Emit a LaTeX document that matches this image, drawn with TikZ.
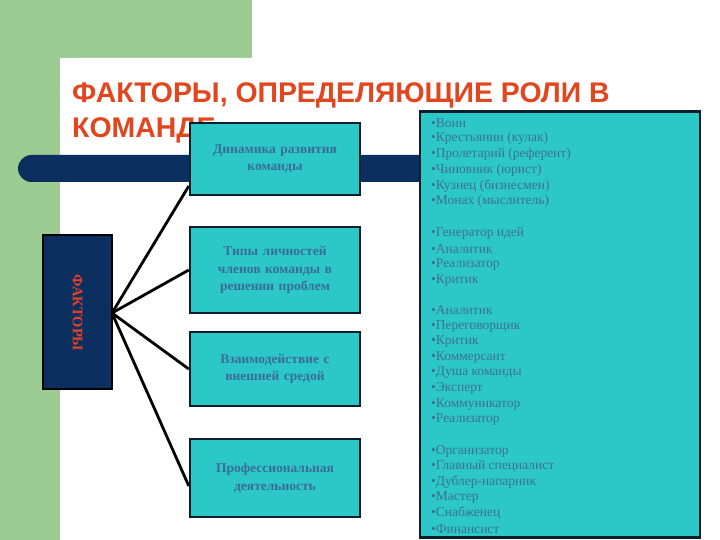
\documentclass[tikz,border=0pt]{standalone}
\usepackage{fontspec}
\setmainfont{Liberation Serif}
\newfontfamily\titlefont{Liberation Sans}
\definecolor{greenbg}{HTML}{9CCB94}
\definecolor{navy}{HTML}{0B2F5F}
\definecolor{cyanbox}{HTML}{2CC8C8}
\definecolor{boxedge}{HTML}{0A1E2A}
\definecolor{titlered}{HTML}{E2461E}
\definecolor{boxtext}{HTML}{3A6C98}
\definecolor{listtext}{HTML}{3D7096}
\definecolor{factred}{HTML}{E8402A}
\tikzset{
  factbox/.style={draw=boxedge, line width=2.4pt, fill=cyanbox, minimum width=170pt, inner sep=0pt,
    text=boxtext, font=\bfseries\fontsize{13.5}{17.5}\selectfont, align=center, text width=160pt},
  conn/.style={draw=black, line width=2.8pt},
  listline/.style={anchor=west, inner sep=0pt, text=listtext, font=\fontsize{13.5}{15}\selectfont}
}
\begin{document}
\begin{tikzpicture}[x=1pt,y=-1pt]
\useasboundingbox (0,0) rectangle (720,540);
\fill[white] (0,0) rectangle (720,540);
% green background
\fill[greenbg] (0,0) rectangle (252,58);
\fill[greenbg] (0,0) rectangle (60,540);
\fill[white, rounded corners=16pt] (60,560) -- (60,58) -- (740,58) -- (740,560) -- cycle;
% title
\node[anchor=base west, inner sep=0pt, text=titlered, font=\titlefont\bfseries\fontsize{28.4}{35}\selectfont] (t1) at (72,103) {ФАКТОРЫ, ОПРЕДЕЛЯЮЩИЕ РОЛИ В};
\node[anchor=base west, inner sep=0pt, text=titlered, font=\titlefont\bfseries\fontsize{28.4}{35}\selectfont] (t2) at (72,138) {КОМАНДЕ};
% navy bar
\fill[navy, rounded corners=13.5pt] (18,155) rectangle (440,182);
% right list box
\node[draw=boxedge, line width=2.4pt, fill=cyanbox, minimum width=280pt, minimum height=426pt, inner sep=0pt] (list) at (560,324.5) {};
% factors box
\node[draw=black, line width=2.4pt, fill=navy, minimum width=69pt, minimum height=154pt, inner sep=0pt] (fact) at (77.5,312) {};
\node[rotate=-90, text=factred, font=\bfseries\fontsize{14.5}{15}\selectfont, inner sep=0pt] (factlbl) at (77.5,313) {ФАКТОРЫ};
% four factor boxes
\node[factbox, minimum height=72pt] (b1) at (275,159) {Динамика развития\\команды};
\node[factbox, minimum height=86pt] (b2) at (275,270) {Типы личностей\\членов команды в\\решении проблем};
\node[factbox, minimum height=74pt] (b3) at (275,369) {Взаимодействие с\\внешней средой};
\node[factbox, minimum height=78pt] (b4) at (275,478) {Профессиональная\\деятельность};
% connectors
\coordinate (hub) at (112,313);
\draw[conn] (hub) -- (b1.west |- 0,186);
\draw[conn] (hub) -- (b2.west);
\draw[conn] (hub) -- (b3.west);
\draw[conn] (hub) -- (b4.west |- 0,486);
% list text
\foreach \t [count=\i] in {Воин,Крестьянин (кулак),Пролетарий (референт),Чиновник (юрист),Кузнец (бизнесмен),Монах (мыслитель)}
  \node[listline] (la\i) at (431,123+15.7*\i-15.7) {•\t};
\foreach \t [count=\i] in {Генератор идей,Аналитик,Реализатор,Критик}
  \node[listline] (lb\i) at (431,233+15.7*\i-15.7) {•\t};
\foreach \t [count=\i] in {Аналитик,Переговорщик,Критик,Коммерсант,Душа команды,Эксперт,Коммуникатор,Реализатор}
  \node[listline] (lc\i) at (431,310.5+15.6*\i-15.6) {•\t};
\foreach \t [count=\i] in {Организатор,Главный специалист,Дублер-напарник,Мастер,Снабженец,Финансист}
  \node[listline] (ld\i) at (431,451+15.6*\i-15.6) {•\t};
\end{tikzpicture}
\end{document}
